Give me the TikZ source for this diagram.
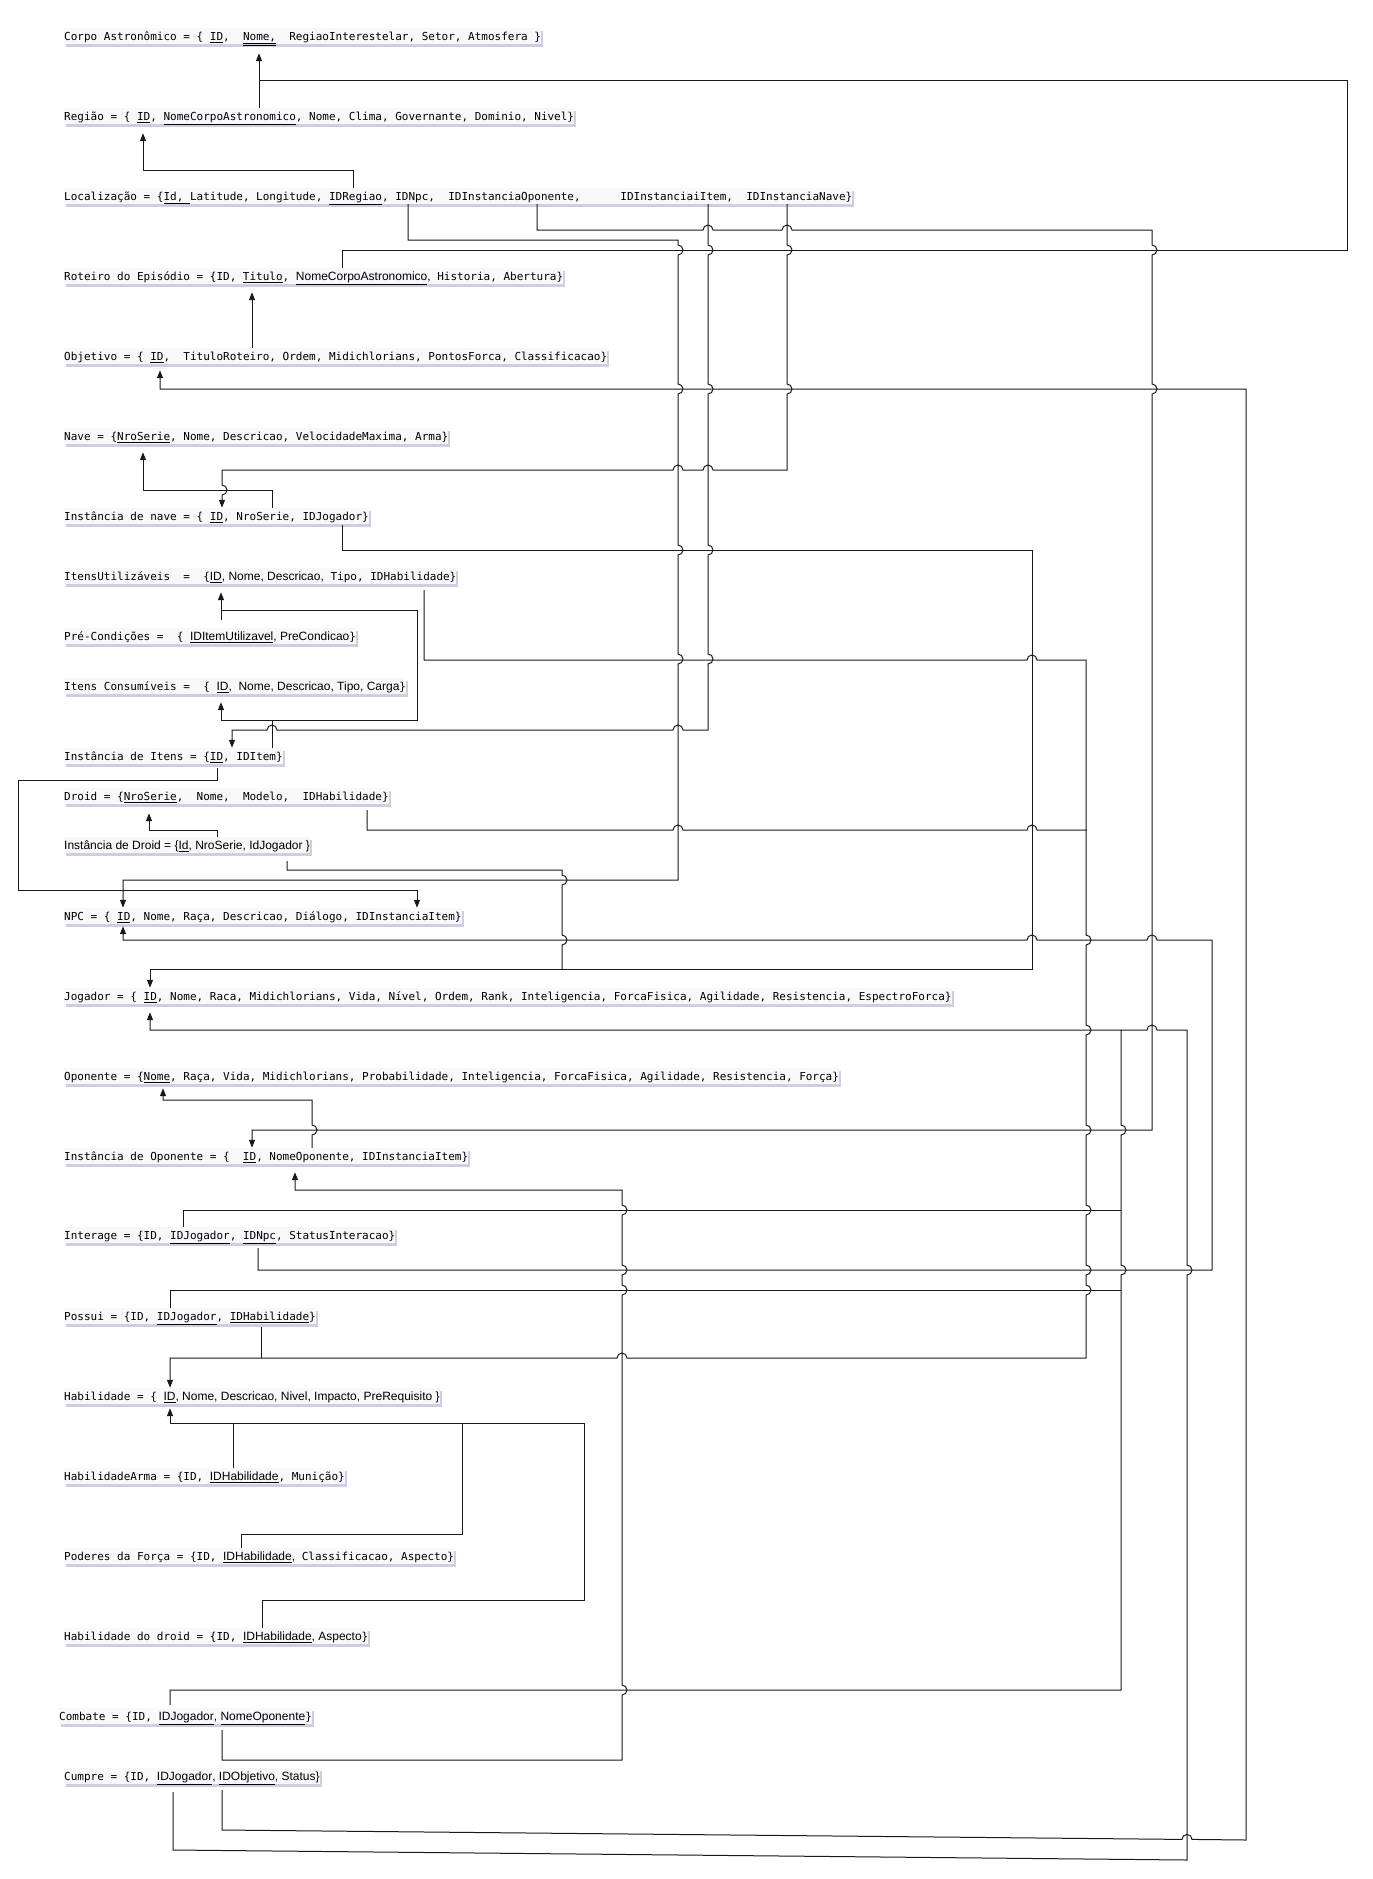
\documentclass[tikz,border=0pt]{standalone}
\usepackage{fontspec}
\setmonofont{DejaVu Sans Mono}
\newfontfamily\fsans{Liberation Sans}
\usetikzlibrary{arrows.meta,calc,shadows}

\definecolor{lblfill}{RGB}{248,248,251}
\definecolor{lblshadow}{RGB}{204,207,224}

\newcommand{\pk}[1]{\underline{#1}}
\newcommand{\sns}[1]{{\fsans\fontsize{12pt}{14pt}\selectfont #1}}

\begin{document}
\begin{tikzpicture}[
    x=1pt, y=-1pt,
    lbl/.style={anchor=west, inner xsep=0pt, inner ysep=0pt, minimum height=16pt,
      text height=9pt, text depth=0pt,
      fill=lblfill, drop shadow={shadow xshift=2pt,shadow yshift=-3pt,fill=lblshadow,opacity=1},
      font=\ttfamily\fontsize{11pt}{13pt}\selectfont},
    link/.style={line width=1pt, draw=black!90},
    >={Triangle[length=8pt,width=6pt]}]
  \fill[white] (0,0) rectangle (1373,1879);
  \useasboundingbox (0,0) rectangle (1373,1879);

  \node[lbl] (corpo) at (64,36) {Corpo Astronômico = \{ \pk{ID},~~\underline{\pk{Nome,}}~~RegiaoInterestelar, Setor, Atmosfera \}};
  \node[lbl] (regiao) at (64,116) {Região = \{ \pk{ID}, \pk{NomeCorpoAstronomico}, Nome, Clima, Governante, Dominio, Nivel\}};
  \node[lbl] (loc) at (64,196) {Localização = \{\pk{Id,~}Latitude, Longitude, \pk{IDRegiao}, IDNpc,~~IDInstanciaOponente,~~~~~~IDInstanciaiItem,~~IDInstanciaNave\}};
  \node[lbl] (roteiro) at (64,276) {Roteiro do Episódio = \{ID, \pk{Titulo}, \sns{\pk{NomeCorpoAstronomico},} Historia, Abertura\}};
  \node[lbl] (objetivo) at (64,356) {Objetivo = \{ \pk{ID},~~TituloRoteiro, Ordem, Midichlorians, PontosForca, Classificacao\}};
  \node[lbl] (nave) at (64,436) {Nave = \{\pk{NroSerie}, Nome, Descricao, VelocidadeMaxima, Arma\}};
  \node[lbl] (instnave) at (64,516) {Instância de nave = \{ \pk{ID}, NroSerie, IDJogador\}};
  \node[lbl] (itensutil) at (64,576) {ItensUtilizáveis~~=~~\{\sns{\pk{ID}, Nome, Descricao,} Tipo, IDHabilidade\}};
  \node[lbl] (precond) at (64,636) {Pré-Condições =~~\{ \sns{\pk{IDItemUtilizavel}, PreCondicao}\}};
  \node[lbl] (itenscons) at (64,686) {Itens Consumíveis =~~\{ \sns{\pk{ID},~~Nome, Descricao, Tipo, Carga}\}};
  \node[lbl] (institens) at (64,756) {Instância de Itens = \{\pk{ID}, IDItem\}};
  \node[lbl] (droid) at (64,796) {Droid = \{\pk{NroSerie},~~Nome,~~Modelo,~~IDHabilidade\}};
  \node[lbl] (instdroid) at (64,845) {\sns{Instância de Droid = \{\pk{Id}, NroSerie, IdJogador \}}};
  \node[lbl] (npc) at (64,916) {NPC = \{ \pk{ID}, Nome, Raça, Descricao, Diálogo, IDInstanciaItem\}};
  \node[lbl] (jogador) at (64,996) {Jogador = \{ \pk{ID}, Nome, Raca, Midichlorians, Vida, Nível, Ordem, Rank, Inteligencia, ForcaFisica, Agilidade, Resistencia, EspectroForca\}};
  \node[lbl] (oponente) at (64,1076) {Oponente = \{\pk{Nome}, Raça, Vida, Midichlorians, Probabilidade, Inteligencia, ForcaFisica, Agilidade, Resistencia, Força\}};
  \node[lbl] (instopon) at (64,1156) {Instância de Oponente = \{~~\pk{ID}, NomeOponente, IDInstanciaItem\}};
  \node[lbl] (interage) at (64,1235) {Interage = \{ID, \pk{IDJogador}, \pk{IDNpc}, StatusInteracao\}};
  \node[lbl] (possui) at (64,1316) {Possui = \{ID, \pk{IDJogador}, \pk{IDHabilidade}\}};
  \node[lbl] (habilidade) at (64,1396) {Habilidade = \{ \sns{\pk{ID}, Nome, Descricao, Nivel, Impacto, PreRequisito \}}};
  \node[lbl] (habarma) at (64,1476) {HabilidadeArma = \{ID, \sns{\pk{IDHabilidade}}, Munição\}};
  \node[lbl] (poderes) at (64,1556) {Poderes da Força = \{ID, \sns{\pk{IDHabilidade},} Classificacao, Aspecto\}};
  \node[lbl] (habdroid) at (64,1636) {Habilidade do droid = \{ID, \sns{\pk{IDHabilidade}, Aspecto}\}};
  \node[lbl] (combate) at (59,1716) {Combate = \{ID, \sns{\pk{IDJogador}, \pk{NomeOponente}}\}};
  \node[lbl] (cumpre) at (64,1776) {Cumpre = \{ID, \sns{\pk{IDJogador}, \pk{IDObjetivo}, Status\}}};

  \draw[link,->] ($(regiao.north west)+(195,0)$) -- ($(corpo.south west)+(195,9)$);
  \draw[link] ($(roteiro.north west)+(278,0)$) -- (342,250) -- (1347,250) -- (1347,80) -- (259,80);
  \draw[link,->] ($(loc.north west)+(289,0)$) -- (353,170) -- (143,170) -- ($(regiao.south west)+(79,9)$);

  \draw[link,->] ($(loc.south west)+(344,0)$) -- (408,240) -- (678,240)
    -- (678,245) arc(90:-90:5pt) -- (678,384) arc(90:-90:5pt)
    -- (678,545) arc(90:-90:5pt) -- (678,654) arc(90:-90:5pt)
    -- (678,880) -- (123,880) -- ($(npc.north west)+(59,0)$);
  \draw[link,->] ($(loc.south west)+(644,0)$)
    -- (708,245) arc(90:-90:5pt) -- (708,384) arc(90:-90:5pt)
    -- (708,545) arc(90:-90:5pt) -- (708,654) arc(90:-90:5pt)
    -- (708,730) -- (683,730) arc(0:180:5pt) -- (277,730) arc(0:180:5pt)
    -- (232,730) -- ($(institens.north west)+(168,0)$);
  \draw[link,->] ($(loc.south west)+(473,0)$) -- (537,230)
    -- (703,230) arc(180:0:5pt) -- (782,230) arc(180:0:5pt)
    -- (1152,230) -- (1152,245) arc(90:-90:5pt) -- (1152,384) arc(90:-90:5pt)
    -- (1152,1130) -- (252,1130) -- ($(instopon.north west)+(188,0)$);
  \draw[link,->] ($(loc.south west)+(723,0)$)
    -- (787,245) arc(90:-90:5pt) -- (787,384) arc(90:-90:5pt)
    -- (787,470) -- (713,470) arc(0:180:5pt) -- (683,470) arc(0:180:5pt)
    -- (222,470) -- (222,485) arc(90:-90:5pt) -- ($(instnave.north west)+(158,0)$);

  \draw[link,->] ($(instnave.north west)+(208,0)$) -- (272,490) -- (143,490) -- ($(nave.south west)+(79,8)$);
  \draw[link,->] ($(objetivo.north west)+(188,0)$) -- ($(roteiro.south west)+(188,8)$);
  \draw[link,->] ($(cumpre.south west)+(158,6)$) -- (222,1830) -- (1182,1839.4) arc(180:0:5pt) -- (1246,1840)
    -- (1246,389) -- (160,389) -- ($(objetivo.south west)+(96,6)$);

  \draw[link,->] ($(instnave.south west)+(278,1)$) -- (342,550) -- (1032,550) -- (1032,969) -- (150,969) -- ($(jogador.north west)+(86,0)$);
  \draw[link] ($(instdroid.south west)+(223,8)$) -- (287,870) -- (562,870) -- (562,875) arc(90:-90:5pt) -- (562,935) arc(90:-90:5pt) -- (562,969);

  \draw[link,->] ($(itensutil.south west)+(360,6)$) -- (424,660) -- (1027,660) arc(180:0:5pt) -- (1086,660)
    -- (1086,935) arc(90:-90:5pt) -- (1086,1025) arc(90:-90:5pt)
    -- (1086,1125) arc(90:-90:5pt) -- (1086,1205) arc(90:-90:5pt)
    -- (1086,1265) arc(90:-90:5pt) -- (1086,1285) arc(90:-90:5pt)
    -- (1086,1358) -- (627,1358) arc(0:180:5pt) -- (170,1358) -- ($(habilidade.north west)+(106,0)$);
  \draw[link] ($(possui.south west)+(197,3)$) -- (261,1358);
  \draw[link] ($(droid.south west)+(303,6)$) -- (367,830) -- (673,830) arc(180:0:5pt) -- (1027,830) arc(180:0:5pt) -- (1087,830);

  \draw[link,->] ($(interage.south west)+(194,5)$) -- (258,1270) -- (1212,1270) -- (1212,940)
    -- (1157,940) arc(0:180:5pt) -- (1037,940) arc(0:180:5pt) -- (123,940) -- ($(npc.south west)+(59,2)$);

  \draw[link,->] ($(combate.north west)+(111,-3)$) -- (170,1690) -- (1121,1690)
    -- (1121,1275) arc(-90:90:5pt) -- (1121,1135) arc(-90:90:5pt)
    -- (1121,1030) -- (150,1030) -- ($(jogador.south west)+(86,8)$);
  \draw[link] ($(cumpre.south west)+(109,8)$) -- (173,1850) -- (1187,1860)
    -- (1187,1275) arc(-90:90:5pt) -- (1187,1030) -- (1157,1030) arc(0:180:5pt) -- (1121,1030);
  \draw[link] ($(possui.north west)+(106,0)$) -- (170,1290) -- (1121,1290);
  \draw[link] ($(interage.north west)+(119,0)$) -- (183,1210) -- (1121,1210);

  \draw[link,->] ($(combate.south west)+(163,6)$) -- (222,1760) -- (622,1760)
    -- (622,1695) arc(-90:90:5pt) -- (622,1295) arc(-90:90:5pt)
    -- (622,1275) arc(-90:90:5pt) -- (622,1215) arc(-90:90:5pt)
    -- (622,1190) -- (295,1190) -- ($(instopon.south west)+(231,8)$);
  \draw[link,->] ($(instopon.north west)+(248,0)$) -- (312,1135) arc(-90:90:5pt) -- (312,1100) -- (163,1100)
    -- ($(oponente.south west)+(99,4)$);

  \draw[link,->] ($(precond.north west)+(157,-8)$) -- ($(itensutil.south west)+(157,8)$);
  \draw[link] (221,610) -- (417,610) -- (417,720) -- (272,720);
  \draw[link,->] ($(institens.north west)+(208,0)$) -- (272,720) -- (221,720) -- ($(itenscons.south west)+(157,8)$);
  \draw[link,->] ($(institens.south west)+(153,4)$) -- (217,780) -- (18,780) -- (18,890) -- (417,890) -- ($(npc.north west)+(353,0)$);
  \draw[link,->] ($(instdroid.north west)+(153,0)$) -- (217,830) -- (149,830) -- ($(droid.south west)+(85,9)$);

  \draw[link,->] ($(habarma.north west)+(169,0)$) -- (233,1423) -- (170,1423) -- ($(habilidade.south west)+(106,4)$);
  \draw[link] ($(poderes.north west)+(177.5,0)$) -- (241.5,1534) -- (462,1534) -- (462,1423) -- (233,1423);
  \draw[link] ($(habdroid.north west)+(198.5,0)$) -- (262.5,1600) -- (584,1600) -- (584,1423) -- (462,1423);
\end{tikzpicture}
\end{document}
